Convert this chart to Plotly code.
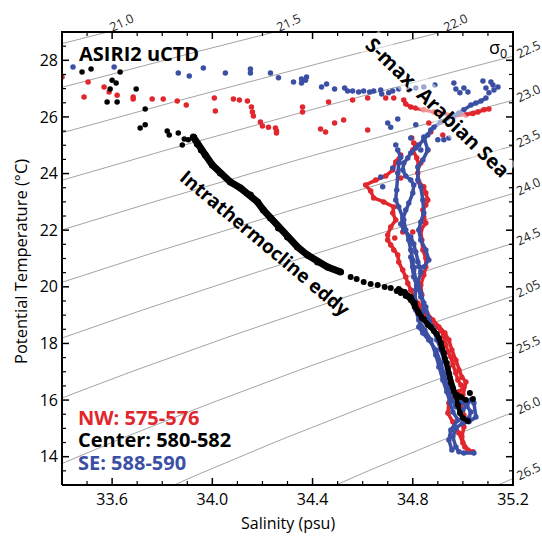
import numpy as np
import plotly.graph_objects as go

# ---------------- axis / labels ----------------
S_RANGE = [33.4, 35.2]
T_RANGE = [13.0, 29.0]
x_major_ticks = [33.6, 34.0, 34.4, 34.8, 35.2]
y_major_ticks = [14, 16, 18, 20, 22, 24, 26, 28]
x_minor_step = 0.1
y_minor_step = 0.5
sigma_levels = [21.0, 21.5, 22.0, 22.5, 23.0, 23.5, 24.0, 24.5, 25.0, 25.5, 26.0, 26.5]
sigma_labels = ["21.0", "21.5", "22.0", "22.5", "23.0", "23.5", "24.0", "24.5", "2.05", "25.5", "26.0", "26.5"]
legend_texts = ["NW: 575-576", "Center: 580-582", "SE: 588-590"]

RED = "#e1262e"
BLUE = "#3b4fa4"
BLACK = "#000000"

# ---------------- NW (red) ----------------
nw_surface_s = [33.400, 33.504, 33.488, 33.568, 33.588, 33.620, 33.684, 33.684, 33.760, 33.804,
                33.860, 33.896, 34.008, 34.012, 34.084, 34.108, 34.140, 34.156, 34.160, 34.164,
                34.192, 34.200, 34.224, 34.252, 34.256, 34.256, 34.360, 34.360, 34.464, 34.560,
                34.620, 34.692, 34.724, 34.432, 34.452, 34.488, 34.524, 34.620, 34.864, 34.920,
                34.872, 34.832, 34.860, 34.804, 34.796, 34.760, 34.728, 34.800, 34.752]
nw_surface_t = [27.41, 27.23, 26.70, 27.06, 26.88, 26.77, 26.70, 26.63, 26.63, 26.63,
                26.56, 26.42, 26.67, 26.21, 26.63, 26.60, 26.56, 26.35, 26.17, 26.03,
                25.82, 25.68, 25.64, 25.61, 25.50, 25.43, 26.35, 26.17, 26.53, 26.60,
                26.67, 26.67, 26.67, 25.57, 25.47, 25.79, 25.89, 25.54, 25.79, 25.36,
                25.47, 24.37, 24.83, 25.08, 25.26, 21.94, 21.72, 21.94, 23.84]

nw_top_s = [34.764, 34.772, 34.792, 34.812, 34.844, 34.884, 34.920, 34.964, 35.012, 35.040,
            35.060, 35.084, 35.104]
nw_top_t = [26.60, 26.46, 26.35, 26.32, 26.25, 26.17, 26.14, 26.03, 26.07, 26.12,
            26.17, 26.25, 26.28]

nw_cast1_s = [34.752, 34.732, 34.720, 34.692, 34.652, 34.612, 34.632, 34.644, 34.684, 34.724,
              34.720, 34.732, 34.712, 34.700, 34.700, 34.712, 34.724, 34.740, 34.744, 34.760,
              34.772, 34.780, 34.792, 34.804, 34.820, 34.832, 34.844, 34.860, 34.884, 34.912,
              34.924, 34.932, 34.940, 34.952, 34.960, 34.972, 34.980, 34.992, 35.004, 34.984,
              34.964, 34.944, 34.940, 34.960, 34.984, 35.000, 35.020, 35.040]
nw_cast1_t = [24.66, 24.41, 24.13, 23.91, 23.77, 23.60, 23.38, 23.14, 23.00, 22.82,
              22.61, 22.36, 22.11, 21.83, 21.65, 21.48, 21.30, 21.12, 20.88, 20.59,
              20.35, 20.13, 19.89, 19.64, 19.43, 19.18, 18.93, 18.76, 18.62, 18.47,
              18.23, 17.94, 17.70, 17.52, 17.24, 16.96, 16.71, 16.53, 16.46, 16.29,
              16.11, 15.90, 15.54, 15.23, 14.84, 14.48, 14.24, 14.17]

nw_cast2_s = [34.812, 34.800, 34.816, 34.824, 34.820, 34.824, 34.844, 34.852, 34.860, 34.852,
              34.840, 34.844, 34.852, 34.832, 34.836, 34.840, 34.852, 34.852, 34.844, 34.832,
              34.836, 34.840, 34.856, 34.880, 34.904, 34.928, 34.944, 34.956, 34.972, 34.984,
              34.996, 35.012, 35.000, 34.992, 35.004, 35.004, 34.996, 35.008]
nw_cast2_t = [25.01, 24.83, 24.55, 24.30, 24.02, 23.70, 23.53, 23.31, 23.07, 22.89,
              22.71, 22.47, 22.25, 22.01, 21.65, 21.30, 21.02, 20.70, 20.42, 20.06,
              19.71, 19.36, 19.07, 18.83, 18.58, 18.37, 18.12, 17.77, 17.41, 17.06,
              16.81, 16.64, 16.18, 15.83, 15.47, 15.05, 14.70, 14.34]

# ---------------- Center (black) ----------------
center_surface_s = [33.480, 33.516, 33.632, 33.600, 33.616, 33.592, 33.580, 33.620, 33.696, 33.732,
                    33.712, 33.732, 33.820, 33.828, 33.864, 33.880, 33.888, 33.904, 33.928]
center_surface_t = [27.59, 27.69, 27.59, 27.30, 27.20, 26.99, 26.53, 26.53, 26.99, 26.28,
                    25.61, 25.72, 25.50, 25.36, 25.43, 25.01, 25.22, 25.19, 25.29]

center_cast1_s = [33.924, 33.940, 33.956, 33.972, 34.000, 34.032, 34.072, 34.112, 34.152, 34.180,
                  34.204, 34.232, 34.264, 34.300, 34.340, 34.380, 34.420, 34.460, 34.512]
center_cast1_t = [25.29, 25.04, 24.83, 24.66, 24.30, 24.02, 23.70, 23.49, 23.24, 23.00,
                  22.71, 22.43, 22.08, 21.76, 21.41, 21.12, 20.88, 20.70, 20.52]

center_dots_s = [34.552, 34.576, 34.604, 34.632, 34.660, 34.688, 34.712, 34.736, 34.752, 34.772,
                 35.028, 35.040]
center_dots_t = [20.35, 20.28, 20.17, 20.10, 20.06, 19.99, 19.96, 19.85, 19.78, 19.68,
                 16.25, 16.04]

center_cast2_s = [34.772, 34.792, 34.808, 34.824, 34.844, 34.872, 34.896, 34.912, 34.924, 34.936,
                  34.944, 34.952, 34.964, 34.992, 35.012]
center_cast2_t = [19.68, 19.53, 19.29, 19.07, 18.86, 18.58, 18.33, 18.02, 17.66, 17.31,
                  16.96, 16.60, 16.29, 16.11, 16.00]

center_cast3_s = [34.744, 34.768, 34.792, 34.808, 34.820, 34.836, 34.860, 34.884, 34.904, 34.916,
                  34.928, 34.940, 34.948, 34.960, 34.972, 34.980, 34.988, 35.000, 35.020]
center_cast3_t = [19.92, 19.82, 19.64, 19.43, 19.15, 18.90, 18.65, 18.44, 18.19, 17.84,
                  17.48, 17.13, 16.78, 16.43, 16.15, 15.83, 15.54, 15.37, 15.26]

# ---------------- SE (blue) ----------------
se_surface_s = [33.444, 33.608, 33.864, 33.908, 33.964, 34.052, 34.152, 34.152, 34.232, 34.264,
                34.324, 34.356, 34.356, 34.376, 34.372, 34.436, 34.456, 34.488, 34.528, 34.540,
                34.560, 34.584, 34.604, 34.628, 34.644, 34.672, 34.676, 34.704, 34.720, 34.744,
                34.784, 34.812, 34.844, 34.888, 34.964, 34.972, 34.988, 35.004, 35.020, 35.080,
                35.092, 35.112, 35.120, 35.124, 35.140, 35.104,
                34.740, 34.712, 34.700, 34.812, 34.944, 34.924, 34.900, 34.792, 34.672, 34.680,
                34.720, 34.732, 34.832]
se_surface_t = [27.76, 27.76, 27.55, 27.45, 27.73, 27.55, 27.69, 27.55, 27.55, 27.38,
                27.23, 27.34, 27.20, 27.41, 27.30, 27.06, 27.16, 26.99, 27.02, 26.92,
                26.92, 26.88, 26.92, 26.88, 26.92, 26.95, 26.81, 26.85, 26.92, 26.99,
                26.95, 27.02, 27.06, 27.13, 27.20, 26.99, 26.85, 27.02, 26.88, 27.27,
                27.02, 27.23, 27.13, 26.95, 27.06, 26.85,
                25.93, 25.64, 25.79, 25.72, 25.26, 25.19, 25.19, 25.26, 23.88, 23.53,
                24.20, 25.01, 24.83]

se_cast1_s = [35.092, 35.072, 35.052, 35.032, 35.004, 34.984, 34.964, 34.940, 34.912, 34.884,
              34.872, 34.860, 34.844, 34.824, 34.812, 34.792, 34.780, 34.764, 34.760, 34.772,
              34.792, 34.804, 34.800, 34.784, 34.772, 34.760, 34.752, 34.764, 34.792, 34.804,
              34.812, 34.820, 34.832, 34.820, 34.832, 34.844, 34.840, 34.832, 34.824, 34.840,
              34.864, 34.892, 34.912, 34.924, 34.940, 34.952, 34.972, 35.000, 35.032, 35.044,
              35.052, 35.024, 35.000, 34.972, 34.960, 34.972, 34.984, 35.004, 35.044]
se_cast1_t = [26.67, 26.56, 26.49, 26.42, 26.25, 26.14, 26.03, 25.96, 25.82, 25.64,
              25.54, 25.36, 25.19, 25.01, 24.90, 24.73, 24.55, 24.37, 24.13, 23.91,
              23.77, 23.60, 23.31, 22.96, 22.71, 22.43, 22.22, 22.01, 21.76, 21.51,
              21.23, 20.88, 20.52, 20.13, 19.78, 19.43, 19.11, 18.90, 18.58, 18.37,
              18.12, 17.77, 17.31, 16.96, 16.46, 16.11, 15.76, 15.65, 16.00, 15.90,
              15.40, 15.23, 15.19, 15.01, 14.70, 14.34, 14.17, 14.13, 14.13]

se_cast2_s = [34.844, 34.860, 34.840, 34.820, 34.820, 34.832, 34.840, 34.844, 34.832, 34.824,
              34.832, 34.852, 34.864, 34.844, 34.800, 34.792, 34.804, 34.824, 34.832, 34.852,
              34.864, 34.880, 34.896, 34.912, 34.928, 34.940, 34.952, 34.968, 34.992, 35.016,
              35.032, 35.024]
se_cast2_t = [25.29, 24.83, 24.48, 24.23, 23.77, 23.53, 23.07, 22.61, 22.29, 22.01,
              21.65, 21.30, 20.95, 20.70, 20.70, 21.05, 20.35, 19.99, 19.64, 19.29,
              18.90, 18.55, 18.12, 17.77, 17.34, 16.89, 16.50, 16.18, 15.93, 15.79,
              15.58, 15.37]

se_cast3_s = [34.740, 34.752, 34.744, 34.740, 34.736, 34.732, 34.744, 34.764, 34.772, 34.784,
              34.792, 34.800, 34.804, 34.812, 34.812, 34.808, 34.812, 34.824, 34.848, 34.872,
              34.892, 34.904, 34.920, 34.936, 34.948, 34.960, 34.980, 34.952, 34.944, 34.956]
se_cast3_t = [24.83, 24.58, 24.37, 24.02, 23.42, 23.07, 22.82, 22.36, 22.01, 21.65,
              21.30, 20.95, 20.59, 20.24, 19.89, 19.53, 19.18, 18.83, 18.47, 18.12,
              17.59, 17.17, 16.71, 16.29, 15.93, 15.58, 15.30, 14.94, 14.59, 14.24]


# ---------------- sigma-0 (UNESCO EOS-80, p = 0) ----------------
def sigma0(S, T):
    rw = (999.842594 + 6.793952e-2 * T - 9.095290e-3 * T**2 + 1.001685e-4 * T**3
          - 1.120083e-6 * T**4 + 6.536332e-9 * T**5)
    A = 8.24493e-1 - 4.0899e-3 * T + 7.6438e-5 * T**2 - 8.2467e-7 * T**3 + 5.3875e-9 * T**4
    B = -5.72466e-3 + 1.0227e-4 * T - 1.6546e-6 * T**2
    C = 4.8314e-4
    return rw + A * S + B * S**1.5 + C * S**2 - 1000.0


def bisect(f, a, b, n=60):
    fa = f(a)
    for _ in range(n):
        m = 0.5 * (a + b)
        fm = f(m)
        if (fm > 0) == (fa > 0):
            a, fa = m, fm
        else:
            b = m
    return 0.5 * (a + b)


# isopycnals: T(S) solved from the equation of state for each level
iso_x, iso_y = [], []
for lev in sigma_levels:
    for s in np.linspace(33.3, 35.3, 41):
        lo, hi = sigma0(s, 40.0) - lev, sigma0(s, 0.0) - lev
        if lo < 0 < hi:
            iso_x.append(float(s))
            iso_y.append(bisect(lambda t: sigma0(s, t) - lev, 0.0, 40.0))
    iso_x.append(None)
    iso_y.append(None)

# the drawing area is 453 x 455 px; the frame sits 1 px inside it so the 2 px line is not clipped
OW, OH = 453.0, 455.0
DX = (S_RANGE[1] - S_RANGE[0]) / (OW - 2)   # psu per pixel
DY = (T_RANGE[1] - T_RANGE[0]) / (OH - 2)   # degC per pixel
X_VIEW = [S_RANGE[0] - DX, S_RANGE[1] + DX]
Y_VIEW = [T_RANGE[0] - DY, T_RANGE[1] + DY]

fig = go.Figure()
fig.add_trace(go.Scatter(x=iso_x, y=iso_y, mode="lines", hoverinfo="skip",
                         line=dict(color="#8c8c8c", width=0.8)))


def cast(s, t, color, lw=3.5, ms=5.5):
    fig.add_trace(go.Scatter(x=s, y=t, mode="lines+markers",
                             line=dict(color=color, width=lw),
                             marker=dict(color=color, size=ms, line=dict(width=0)),
                             hoverinfo="skip"))


def dots(s, t, color, ms=5.5):
    fig.add_trace(go.Scatter(x=s, y=t, mode="markers",
                             marker=dict(color=color, size=ms, line=dict(width=0)),
                             hoverinfo="skip"))


# red
dots(nw_surface_s, nw_surface_t, RED)
cast(nw_top_s, nw_top_t, RED)
cast(nw_cast1_s, nw_cast1_t, RED)
cast(nw_cast2_s, nw_cast2_t, RED)
# blue
dots(se_surface_s, se_surface_t, BLUE)
cast(se_cast1_s, se_cast1_t, BLUE)
cast(se_cast2_s, se_cast2_t, BLUE)
cast(se_cast3_s, se_cast3_t, BLUE)
# black
dots(center_surface_s, center_surface_t, BLACK)
cast(center_cast1_s, center_cast1_t, BLACK, lw=7, ms=7)
dots(center_dots_s, center_dots_t, BLACK, ms=6)
cast(center_cast2_s, center_cast2_t, BLACK, lw=4.5, ms=6)
cast(center_cast3_s, center_cast3_t, BLACK, lw=4.5, ms=6)

# ---------------- frame + inward ticks (drawn in the same subplot) ----------------
major_x, major_y, minor_x, minor_y = [], [], [], []
for v in np.arange(S_RANGE[0] + x_minor_step, S_RANGE[1] - 1e-6, x_minor_step):
    v = round(float(v), 3)
    is_major = any(abs(v - m) < 1e-6 for m in x_major_ticks)
    ln = (7 if is_major else 4) * DY
    tx, ty = (major_x, major_y) if is_major else (minor_x, minor_y)
    tx += [v, v, None, v, v, None]
    ty += [T_RANGE[0], T_RANGE[0] + ln, None, T_RANGE[1], T_RANGE[1] - ln, None]
for v in np.arange(T_RANGE[0] + y_minor_step, T_RANGE[1] - 1e-6, y_minor_step):
    v = round(float(v), 3)
    is_major = any(abs(v - m) < 1e-6 for m in y_major_ticks)
    ln = (7 if is_major else 4) * DX
    tx, ty = (major_x, major_y) if is_major else (minor_x, minor_y)
    tx += [S_RANGE[0], S_RANGE[0] + ln, None, S_RANGE[1], S_RANGE[1] - ln, None]
    ty += [v, v, None, v, v, None]

fig.add_trace(go.Scatter(x=minor_x, y=minor_y, mode="lines",
                         line=dict(color="black", width=1.2), hoverinfo="skip"))
fig.add_trace(go.Scatter(x=major_x, y=major_y, mode="lines",
                         line=dict(color="black", width=1.5), hoverinfo="skip"))
fig.add_trace(go.Scatter(x=[S_RANGE[0], S_RANGE[1], S_RANGE[1], S_RANGE[0], S_RANGE[0]],
                         y=[T_RANGE[0], T_RANGE[0], T_RANGE[1], T_RANGE[1], T_RANGE[0]],
                         mode="lines", line=dict(color="black", width=2), hoverinfo="skip"))

# ---------------- annotations ----------------
FONT = "Open Sans"
ann = []
for lev, lab in zip(sigma_levels, sigma_labels):
    if sigma0(S_RANGE[1], T_RANGE[1]) < lev < sigma0(S_RANGE[1], T_RANGE[0]):
        tc = bisect(lambda t: sigma0(S_RANGE[1], t) - lev, T_RANGE[0], T_RANGE[1])
        ann.append(dict(x=S_RANGE[1], y=tc, xref="x", yref="y", text=lab, showarrow=False,
                        xanchor="center", yanchor="middle",
                        xshift=15, yshift=7, textangle=-25,
                        font=dict(family=FONT, size=12.5, color="#222")))
    else:
        sc = bisect(lambda s: sigma0(s, T_RANGE[1]) - lev, S_RANGE[0], S_RANGE[1])
        ann.append(dict(x=sc, y=T_RANGE[1], xref="x", yref="y", text=lab, showarrow=False,
                        xanchor="center", yanchor="middle",
                        xshift=15, yshift=10, textangle=-25,
                        font=dict(family=FONT, size=12.5, color="#222")))


def pann(x, y, text, size, color="black", bold=False, angle=0, xanchor="center", **kw):
    t = "<b>" + text + "</b>" if bold else text
    d = dict(x=x, y=y, xref="paper", yref="paper", text=t, showarrow=False,
             xanchor=xanchor, yanchor="middle", textangle=angle,
             font=dict(family=FONT, size=size, color=color))
    d.update(kw)
    ann.append(d)


pann(0.9647, 0.9626, "σ<sub>0</sub>", 18)
pann(0.0353, 0.9505, "ASIRI2 uCTD", 20, bold=True, xanchor="left")
pann(0.8320, 0.8308, "S-max, Arabian Sea", 20, bold=True, angle=44,
     bgcolor="rgba(255,255,255,0.5)", borderpad=0)
pann(0.4503, 0.5341, "Intrathermocline eddy", 19, bold=True, angle=40)
for txt, col, yp in zip(legend_texts, [RED, BLACK, BLUE], [0.1516, 0.1022, 0.0527]):
    pann(0.0331, yp, txt, 20, color=col, bold=True, xanchor="left")
pann(0.5, -0.0813, "Salinity (psu)", 16)
pann(-0.0905, 0.4923, "Potential Temperature (°C)", 16.5, angle=-90)

axis_common = dict(showline=False, ticks="", showgrid=False, zeroline=False,
                   tickfont=dict(family=FONT, size=16, color="black"))

fig.update_layout(
    width=542, height=539,
    margin=dict(l=61, r=28, t=31, b=53, autoexpand=False),
    plot_bgcolor="white", paper_bgcolor="white",
    showlegend=False,
    font=dict(family=FONT, color="black"),
    xaxis=dict(range=X_VIEW, tickmode="array", tickvals=x_major_ticks,
               ticktext=[f"{v:.1f}" for v in x_major_ticks], ticklabelstandoff=2, **axis_common),
    yaxis=dict(range=Y_VIEW, tickmode="array", tickvals=y_major_ticks,
               ticktext=[str(v) for v in y_major_ticks], ticklabelstandoff=2, **axis_common),
    annotations=ann,
)

fig.write_html("out.html", config={"displayModeBar": False},
               post_script="document.body.style.margin='0';document.body.style.padding='0';")
